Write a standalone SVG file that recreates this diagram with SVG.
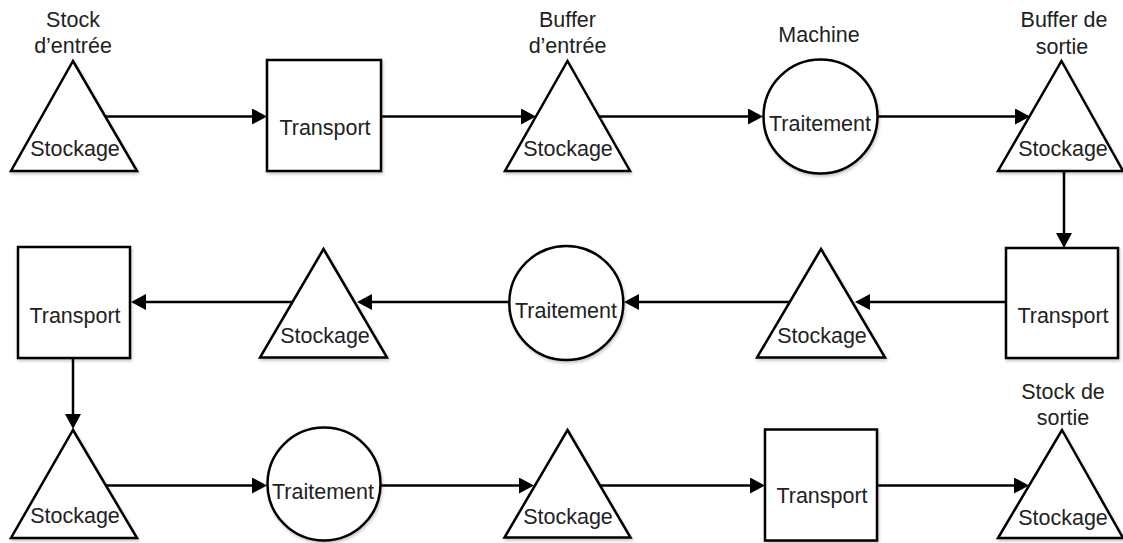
<svg xmlns="http://www.w3.org/2000/svg" width="1123" height="543" viewBox="0 0 1123 543">
<style>
.shape{fill:#fff;stroke:#000;stroke-width:2.5;filter:url(#sh)}
.conn{stroke:#000;stroke-width:2.5;fill:none;marker-end:url(#ah)}
text{font-family:"Liberation Sans",Arial,sans-serif;font-size:21.5px;fill:#222;text-anchor:middle}
</style>
<defs>
<filter id="sh" x="-10%" y="-10%" width="130%" height="130%">
<feDropShadow dx="1" dy="2" stdDeviation="1.5" flood-color="#000" flood-opacity="0.22"/>
</filter>
<marker id="ah" viewBox="0 0 15 16" refX="10" refY="8" markerWidth="15" markerHeight="16" markerUnits="userSpaceOnUse" orient="auto">
<path d="M0,0 L15,8 L0,16 z" fill="#000"/>
</marker>
</defs>
<rect width="1123" height="543" fill="#fff"/>
<g id="connectors">
<line class="conn" x1="105" y1="116.5" x2="262" y2="116.5"/>
<line class="conn" x1="381" y1="116.5" x2="531" y2="116.5"/>
<line class="conn" x1="599" y1="116.5" x2="758" y2="116.5"/>
<line class="conn" x1="878" y1="116.5" x2="1025" y2="116.5"/>
<line class="conn" x1="1064" y1="171" x2="1064" y2="243"/>
<line class="conn" x1="1006" y1="302" x2="860" y2="302"/>
<line class="conn" x1="790" y1="302" x2="629" y2="302"/>
<line class="conn" x1="509" y1="302" x2="362" y2="302"/>
<line class="conn" x1="292" y1="302" x2="136" y2="302"/>
<line class="conn" x1="73" y1="358" x2="73" y2="424"/>
<line class="conn" x1="105" y1="485.5" x2="262" y2="485.5"/>
<line class="conn" x1="380" y1="485.5" x2="529" y2="485.5"/>
<line class="conn" x1="600" y1="485.5" x2="760" y2="485.5"/>
<line class="conn" x1="877" y1="485.5" x2="1024" y2="485.5"/>
</g>
<g id="n1">
<polygon class="shape" points="73,61 137,171 11,171"/>
<text x="73" y="27">Stock</text>
<text x="73" y="53">d’entrée</text>
<text x="75" y="156">Stockage</text>
</g>
<g id="n2">
<rect class="shape" x="267" y="60" width="114" height="111"/>
<text x="325" y="135">Transport</text>
</g>
<g id="n3">
<polygon class="shape" points="567.5,61 630,171 505,171"/>
<text x="567.5" y="27">Buffer</text>
<text x="567.5" y="53">d’entrée</text>
<text x="568" y="156">Stockage</text>
</g>
<g id="n4">
<circle class="shape" cx="820.5" cy="116.5" r="57"/>
<text x="819" y="42">Machine</text>
<text x="820" y="131">Traitement</text>
</g>
<g id="n5">
<polygon class="shape" points="1061.5,61 1123,171 998,171"/>
<text x="1064" y="27">Buffer de</text>
<text x="1062" y="54">sortie</text>
<text x="1063" y="156">Stockage</text>
</g>
<g id="n6">
<rect class="shape" x="1006" y="248" width="112" height="110"/>
<text x="1063" y="322.5">Transport</text>
</g>
<g id="n7">
<polygon class="shape" points="821,249 885,357.5 757,357.5"/>
<text x="822" y="343">Stockage</text>
</g>
<g id="n8">
<circle class="shape" cx="566.3" cy="303" r="57"/>
<text x="566" y="318">Traitement</text>
</g>
<g id="n9">
<polygon class="shape" points="323.5,249 387,357.5 260,357.5"/>
<text x="325" y="343">Stockage</text>
</g>
<g id="n10">
<rect class="shape" x="18" y="247" width="112" height="111"/>
<text x="75" y="322.5">Transport</text>
</g>
<g id="n11">
<polygon class="shape" points="73,430 137,538 11,538"/>
<text x="75" y="523">Stockage</text>
</g>
<g id="n12">
<circle class="shape" cx="324" cy="484" r="56.5"/>
<text x="323" y="499">Traitement</text>
</g>
<g id="n13">
<polygon class="shape" points="567.5,430 630.5,537.5 504.5,537.5"/>
<text x="568" y="524">Stockage</text>
</g>
<g id="n14">
<rect class="shape" x="765" y="429.5" width="112" height="111"/>
<text x="822" y="503">Transport</text>
</g>
<g id="n15">
<polygon class="shape" points="1062,430 1123,538 998,538"/>
<text x="1063" y="399">Stock de</text>
<text x="1063" y="425">sortie</text>
<text x="1063" y="525">Stockage</text>
</g>
</svg>
